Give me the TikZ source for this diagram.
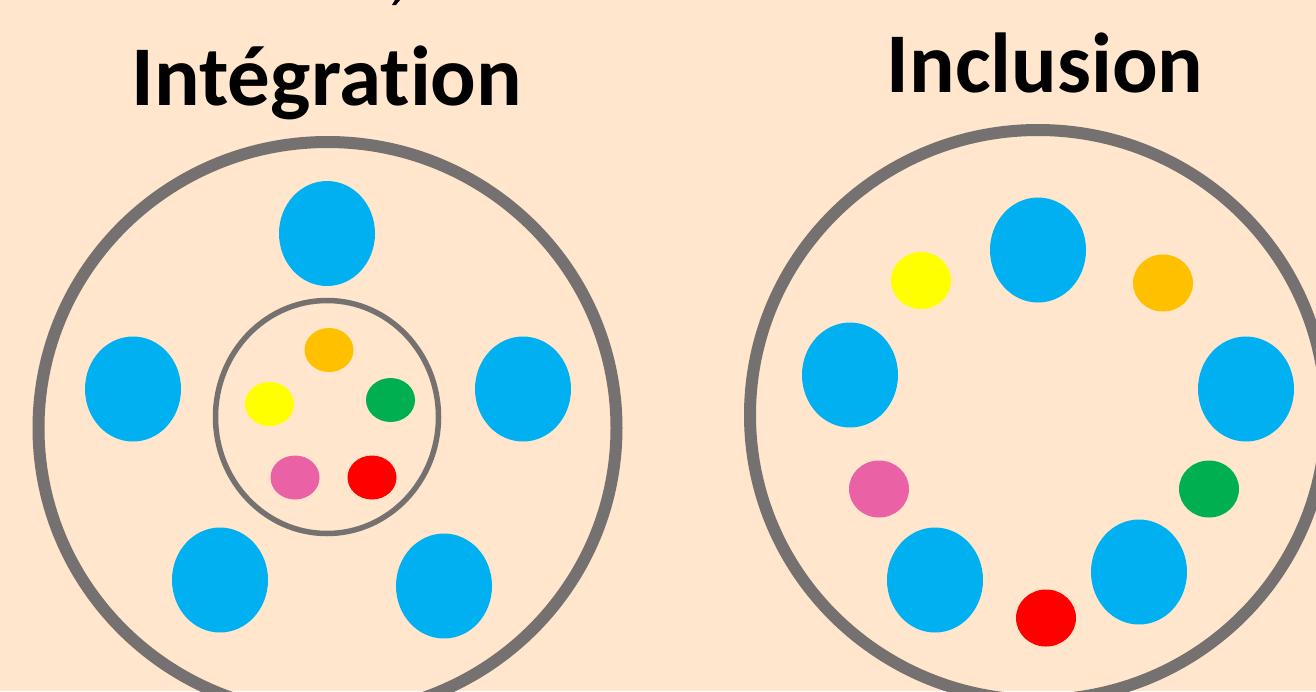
\documentclass[tikz,border=0pt]{standalone}
\usepackage{fontspec}
\setmainfont[Ligatures=NoCommon]{Carlito}
\usepackage{xcolor}
\definecolor{fond}{HTML}{FFE6CC}
\definecolor{anneau}{HTML}{767171}
\definecolor{bleu}{HTML}{00B0F0}
\definecolor{orange2}{HTML}{FFC000}
\definecolor{vert}{HTML}{00B050}
\definecolor{jaune}{HTML}{FFFF00}
\definecolor{rouge}{HTML}{FF0000}
\definecolor{rose}{HTML}{EA62A5}
\tikzset{
  titre/.style={font=\bfseries\fontsize{48.4}{56}\selectfont, text=black, inner sep=0pt, anchor=base},
}
\begin{document}
\begin{tikzpicture}[x=0.02cm,y=-0.02cm]
            % Background and clip to the frame
            \fill[fond] (0,0) rectangle (1316,691);
            \useasboundingbox (0,0) rectangle (1316,691);
            \clip (0,0) rectangle (1316,691);

            % Bit of the line above the titles
            \fill[black] (392,5) -- (395,0) -- (400,0) -- (396,5) -- cycle;

            % Titles
            \node[titre] (integration) at (327,105) {Intégration};
            \node[titre] (inclusion) at (1045,92) {Inclusion};

            % Outer rings
            \draw[anneau, line width=0.24cm] (327.5,428) ellipse (289 and 286);
            \draw[anneau, line width=0.24cm] (1038,415) ellipse (288 and 285);

            % Inner ring
            \draw[anneau, line width=0.11cm] (327,417) ellipse (111.5 and 116.5);

            % Big blue ones
            \foreach \x/\y in {327/233.5,133/389,523/389,220/580,444/586,
                               1038/250,850/375,1246/389,935/580,1139/572} {
                \fill[bleu] (\x,\y) ellipse (48 and 52.5);
            }

            % Small ones inside the inner ring
            \foreach \x/\y/\c in {329/350/orange2,390.5/400/vert,269.5/404/jaune,295/477.5/rose,372/477.5/rouge} {
                \fill[\c] (\x,\y) ellipse (24.5 and 22);
            }

            % Small ones between the blue ones
            \foreach \x/\y/\c in {921/280.5/jaune,1163/283/orange2,1209/489/vert,879/489/rose,1046/618/rouge} {
                \fill[\c] (\x,\y) ellipse (30 and 28.5);
            }
\end{tikzpicture}
\end{document}
